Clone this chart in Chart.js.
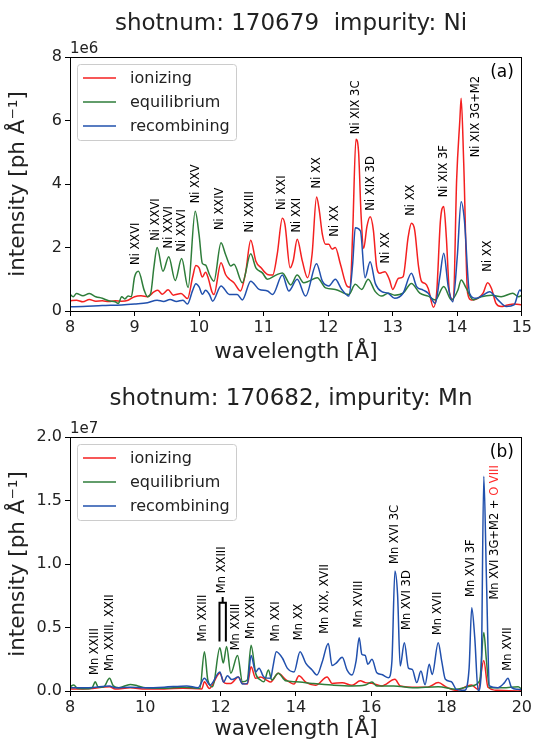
<!DOCTYPE html>
<html>
<head>
<meta charset="utf-8">
<script src="https://cdn.jsdelivr.net/npm/chart.js@4.4.1/dist/chart.umd.min.js"></script>
<style>
html,body{margin:0;padding:0;background:#fff;}
#wrap{position:relative;width:534px;height:742px;overflow:hidden;}
canvas{position:absolute;left:0;}
</style>
</head>
<body>
<div id="wrap">
<canvas id="c1" width="534" height="371" style="top:0"></canvas>
<canvas id="c2" width="534" height="371" style="top:371px"></canvas>
</div>
<script>
// ---------------- DATA: panel (a) Ni, shot 170679 (units of 1e6) ----------------
const niIonWl = [8.00,8.10,8.20,8.30,8.40,8.50,8.60,8.70,8.80,8.90,9.00,9.10,9.20,9.30,9.36,9.43,9.52,9.60,9.72,9.82,9.90,9.95,10.00,10.05,10.10,10.14,10.20,10.23,10.34,10.41,10.47,10.54,10.64,10.72,10.80,10.88,10.96,11.06,11.14,11.21,11.29,11.33,11.41,11.46,11.52,11.60,11.68,11.75,11.82,11.86,11.91,11.96,12.01,12.06,12.11,12.19,12.29,12.34,12.38,12.43,12.47,12.51,12.55,12.60,12.65,12.70,12.75,12.80,12.88,12.95,13.00,13.09,13.16,13.24,13.29,13.34,13.40,13.45,13.50,13.55,13.63,13.68,13.74,13.79,13.83,13.88,13.94,13.99,14.04,14.06,14.10,14.16,14.22,14.32,14.40,14.47,14.53,14.60,14.68,14.78,14.88,15.00];
const niIon   = [0.32,0.34,0.29,0.36,0.31,0.32,0.30,0.32,0.31,0.34,0.45,0.48,0.45,0.60,0.65,0.53,0.67,0.50,0.55,0.39,1.07,1.43,1.36,1.07,1.22,1.05,0.60,0.52,1.52,1.15,1.00,0.89,0.63,1.20,2.23,1.57,1.36,1.15,1.13,1.78,2.92,2.73,1.36,1.60,2.26,1.57,1.05,1.78,3.59,3.20,2.41,2.10,2.10,1.95,2.00,1.47,0.79,0.75,2.50,5.41,5.04,3.00,1.97,2.66,2.97,2.55,1.40,1.19,1.24,0.98,0.68,1.03,1.08,2.34,2.76,2.55,1.40,0.92,0.87,0.71,0.12,0.56,2.87,3.29,2.34,0.56,0.35,4.13,6.02,6.70,4.65,0.56,0.35,0.40,0.56,0.89,0.71,0.24,0.14,0.19,0.22,0.20];
const niEquWl = [8.00,8.05,8.10,8.20,8.30,8.40,8.50,8.60,8.70,8.75,8.80,8.85,8.90,8.95,9.00,9.06,9.15,9.20,9.25,9.30,9.35,9.44,9.53,9.63,9.73,9.83,9.94,10.00,10.05,10.10,10.16,10.23,10.34,10.41,10.49,10.54,10.67,10.80,10.88,10.98,11.06,11.19,11.29,11.42,11.52,11.62,11.70,11.83,11.96,12.11,12.32,12.42,12.52,12.62,12.73,12.83,12.93,13.03,13.16,13.29,13.42,13.55,13.66,13.79,13.91,14.01,14.06,14.14,14.25,14.37,14.53,14.68,14.86,14.95,15.00];
const niEqu   = [0.53,0.45,0.55,0.48,0.55,0.45,0.40,0.32,0.29,0.24,0.45,0.38,0.47,0.45,1.07,1.25,0.65,0.45,0.55,1.38,2.00,1.25,1.71,0.96,1.65,0.74,3.14,2.40,1.50,1.45,1.15,0.94,2.15,1.78,1.42,1.47,0.89,1.80,1.36,1.20,1.00,1.13,1.20,0.82,1.13,0.89,0.94,1.05,0.73,0.68,0.52,0.84,0.68,1.00,0.61,0.47,0.56,0.50,0.56,0.87,0.56,0.47,0.35,0.77,0.35,0.66,0.98,0.71,0.35,0.45,0.50,0.45,0.56,0.45,0.50];
const niRecWl = [8.00,8.20,8.50,8.80,9.00,9.20,9.35,9.45,9.55,9.65,9.75,9.82,9.90,9.95,10.00,10.05,10.10,10.16,10.21,10.34,10.47,10.59,10.67,10.80,10.93,11.06,11.14,11.29,11.39,11.52,11.65,11.82,11.91,12.01,12.11,12.21,12.32,12.38,12.42,12.50,12.57,12.65,12.73,12.83,12.93,13.03,13.16,13.29,13.37,13.47,13.55,13.66,13.73,13.79,13.86,13.93,14.00,14.06,14.11,14.19,14.29,14.40,14.50,14.63,14.76,14.88,14.97,15.00];
const niRec   = [0.13,0.14,0.17,0.19,0.22,0.26,0.34,0.30,0.36,0.30,0.34,0.22,0.65,0.86,0.76,0.53,0.65,0.52,0.31,0.79,0.52,0.52,0.35,0.94,0.68,0.63,0.52,1.13,0.63,1.00,0.47,1.49,0.94,0.79,1.00,0.68,0.47,1.50,2.62,2.52,1.05,1.55,0.87,0.61,0.56,0.40,0.56,1.19,0.77,0.66,0.56,0.24,1.08,1.82,0.77,0.29,1.71,3.44,2.87,0.56,0.40,0.50,0.61,0.35,0.14,0.19,0.66,0.60];
const niTicksX = [8,9,10,11,12,13,14,15];
const niTicksY = [0,2,4,6,8];
const niLineNames = ['Ni XXVI','Ni XXVI','Ni XXVI','Ni XXVI','Ni XXV','Ni XXIV','Ni XXIII','Ni XXI','Ni XXI','Ni XX','Ni XX','Ni XIX 3C','Ni XIX 3D','Ni XX','Ni XX','Ni XIX 3F','Ni XIX 3G+M2','Ni XX'];
const niLineWl    = [9.03,9.34,9.53,9.74,9.95,10.33,10.79,11.28,11.52,11.83,12.11,12.43,12.67,12.89,13.29,13.79,14.29,14.47];
const niLineY     = [1.45,2.21,1.97,1.87,3.39,2.55,2.47,3.18,2.47,3.86,2.34,5.57,3.16,1.50,3.00,3.58,4.84,1.24];

// ---------------- DATA: panel (b) Mn, shot 170682 (units of 1e7) ----------------
const mnIonWl = [8.0,8.5,9.05,9.2,9.6,10.0,10.5,11.0,11.5,11.57,11.7,11.98,12.08,12.16,12.27,12.47,12.58,12.71,12.81,12.93,13.06,13.2,13.33,13.53,13.73,13.95,14.08,14.26,14.52,14.83,14.96,15.23,15.49,15.71,15.84,16.02,16.28,16.63,16.77,17.2,17.5,17.78,18.0,18.26,18.66,18.84,18.99,19.10,19.36,19.9,20.0];
const mnIon   = [0.016,0.018,0.034,0.016,0.025,0.016,0.016,0.022,0.016,0.073,0.02,0.14,0.07,0.06,0.06,0.11,0.06,0.055,0.19,0.10,0.11,0.09,0.07,0.14,0.09,0.055,0.12,0.07,0.045,0.11,0.06,0.065,0.045,0.08,0.066,0.06,0.04,0.092,0.04,0.03,0.03,0.066,0.03,0.005,0.047,0.013,0.24,0.03,0.005,0.0,0.002];
const mnEquWl = [8.0,8.1,8.2,8.5,8.6,8.67,8.75,8.9,9.05,9.15,9.3,9.6,9.8,10.0,10.5,11.0,11.45,11.57,11.66,11.79,11.98,12.07,12.16,12.27,12.45,12.58,12.71,12.81,12.93,13.06,13.15,13.27,13.36,13.53,13.73,13.99,14.43,14.96,15.49,15.84,16.02,16.15,16.6,17.1,17.78,18.26,18.66,18.88,18.99,19.06,19.14,19.5,19.9,20.0];
const mnEqu   = [0.034,0.047,0.02,0.018,0.03,0.073,0.03,0.034,0.10,0.04,0.026,0.052,0.04,0.026,0.021,0.029,0.021,0.31,0.087,0.034,0.34,0.22,0.35,0.14,0.28,0.073,0.087,0.36,0.14,0.087,0.073,0.165,0.087,0.14,0.08,0.073,0.06,0.047,0.04,0.047,0.07,0.04,0.04,0.026,0.034,0.013,0.04,0.079,0.46,0.24,0.026,0.026,0.034,0.013];
const mnRecWl = [8.0,8.5,9.05,9.2,9.6,10.0,10.5,11.1,11.4,11.57,11.72,11.98,12.08,12.18,12.3,12.47,12.58,12.71,12.81,12.93,13.02,13.15,13.33,13.39,13.48,13.64,13.77,13.95,14.11,14.26,14.43,14.56,14.70,14.86,14.96,15.07,15.23,15.36,15.49,15.60,15.68,15.75,15.84,15.91,16.02,16.15,16.28,16.46,16.55,16.63,16.70,16.77,16.88,16.99,17.09,17.21,17.32,17.43,17.54,17.62,17.78,17.87,17.97,18.13,18.26,18.48,18.60,18.67,18.75,18.84,18.92,18.99,19.06,19.14,19.36,19.54,19.63,19.73,19.89,20.0];
const mnRec   = [0.026,0.026,0.04,0.026,0.03,0.026,0.03,0.04,0.026,0.10,0.047,0.15,0.07,0.12,0.09,0.11,0.055,0.06,0.28,0.15,0.18,0.11,0.10,0.19,0.31,0.26,0.18,0.15,0.31,0.22,0.165,0.126,0.23,0.375,0.20,0.22,0.265,0.165,0.126,0.24,0.42,0.29,0.28,0.21,0.25,0.144,0.13,0.105,0.236,0.945,0.76,0.197,0.38,0.18,0.17,0.066,0.157,0.05,0.21,0.13,0.38,0.24,0.092,0.073,0.013,0.005,0.18,0.656,0.42,0.0,0.13,1.69,0.89,0.04,0.026,0.066,0.10,0.026,0.013,0.01];
const mnTicksX = [8,10,12,14,16,18,20];
const mnTicksY = [0.0,0.5,1.0,1.5,2.0];
const mnLineNames = ['Mn XXIII','Mn XXIII, XXII','Mn XXIII','Mn XXIII','Mn XXIII','Mn XXII','Mn XXI','Mn XX','Mn XIX, XVII','Mn XVIII','Mn XVI 3C','Mn XVI 3D','Mn XVII','Mn XVI 3F','Mn XVI 3G+M2 + |O VIII','Mn XVII'];
const mnLineWl    = [8.66,9.06,11.54,12.05,12.41,12.80,13.48,14.08,14.78,15.67,16.62,16.96,17.78,18.66,19.30,19.63];
const mnLineY     = [0.126,0.157,0.39,0.77,0.32,0.41,0.39,0.40,0.45,0.50,1.00,0.48,0.44,0.74,0.72,0.16];
// bracket joining the two Mn XXIII lines near 12 Å
const mnBracketWl = [11.97,12.14];
const mnBracketY  = [0.39,0.695,0.74];

const seriesNames = ['ionizing','equilibrium','recombining'];
// ----------------------------------------------------------------------

const FONT = '"DejaVu Sans", "Liberation Sans", sans-serif';
const COLORS = ['#f42020','#2e7d3a','#2150ad'];

function pts(xs, ys){ return xs.map((x,i)=>({x:x,y:ys[i]})); }

const overlay = {
  id: 'overlay',
  afterDatasetsDraw(chart, args, o) {
    const {ctx, chartArea: a, scales} = chart;
    const xs = scales.x, ys = scales.y;
    ctx.save();
    // annotations
    ctx.font = '11.5px ' + FONT;
    ctx.textBaseline = 'middle';
    ctx.textAlign = 'left';
    o.names.forEach((name, i) => {
      const px = xs.getPixelForValue(o.wl[i]);
      const py = ys.getPixelForValue(o.ly[i]);
      ctx.save();
      ctx.translate(px, py);
      ctx.rotate(-Math.PI/2);
      const parts = name.split('|');
      let off = 0;
      parts.forEach((p, k) => {
        ctx.fillStyle = k === 0 ? '#000' : '#ff2a2a';
        ctx.fillText(p, off, 0);
        off += ctx.measureText(p).width;
      });
      ctx.restore();
    });
    if (o.bracket) {
      const b = o.bracket;
      const x1 = xs.getPixelForValue(b.wl[0]), x2 = xs.getPixelForValue(b.wl[1]);
      const yb = ys.getPixelForValue(b.y[0]), yt = ys.getPixelForValue(b.y[1]), ys2 = ys.getPixelForValue(b.y[2]);
      ctx.strokeStyle = '#000'; ctx.lineWidth = 2;
      ctx.beginPath();
      ctx.moveTo(x1, yb); ctx.lineTo(x1, yt); ctx.lineTo(x2, yt); ctx.lineTo(x2, yb);
      ctx.moveTo((x1+x2)/2, yt); ctx.lineTo((x1+x2)/2, ys2);
      ctx.stroke();
    }
    // frame
    ctx.strokeStyle = '#000'; ctx.lineWidth = 1;
    ctx.strokeRect(Math.round(a.left)+0.5, Math.round(a.top)+0.5, Math.round(a.right-a.left)-1, Math.round(a.bottom-a.top));
    // legend
    const lx = a.left + 7.5, ly = a.top + 7.5, lw = 159, lh = 76;
    ctx.fillStyle = 'rgba(255,255,255,0.85)';
    ctx.strokeStyle = '#cccccc';
    ctx.beginPath();
    ctx.roundRect(lx, ly, lw, lh, 3);
    ctx.fill(); ctx.stroke();
    ctx.font = '16px ' + FONT;
    ctx.textBaseline = 'middle';
    chart.data.datasets.forEach((ds, i) => {
      const yy = a.top + 21 + i * 24;
      ctx.strokeStyle = ds.borderColor; ctx.lineWidth = 1.5;
      ctx.beginPath(); ctx.moveTo(a.left + 13, yy); ctx.lineTo(a.left + 46, yy); ctx.stroke();
      ctx.fillStyle = '#222';
      ctx.fillText(ds.label, a.left + 60, yy + 1);
    });
    // panel label
    ctx.font = '17px ' + FONT;
    ctx.textAlign = 'right';
    ctx.fillStyle = '#000';
    ctx.fillText(o.panel, a.right - 8, a.top + 16);
    // offset text
    ctx.font = '15px ' + FONT;
    ctx.textAlign = 'left';
    ctx.textBaseline = 'alphabetic';
    ctx.fillStyle = '#222';
    ctx.fillText(o.mult, a.left, a.top - 4);
    // title
    ctx.font = '23px ' + FONT;
    ctx.textAlign = 'center';
    ctx.fillText(o.title, 291, o.titleY);
    ctx.restore();
  }
};

function makeChart(id, cfg) {
  return new Chart(document.getElementById(id), {
    type: 'line',
    data: {
      datasets: cfg.series.map((s, i) => ({
        label: seriesNames[i],
        data: pts(s[0], s[1]),
        borderColor: COLORS[i],
        backgroundColor: COLORS[i],
        borderWidth: 1.5,
        pointRadius: 0,
        tension: 0.25,
        cubicInterpolationMode: 'monotone',
        fill: false,
        order: 3 - i
      }))
    },
    options: {
      responsive: false,
      animation: false,
      devicePixelRatio: 1,
      layout: { padding: { top: cfg.padTop, right: 10, left: 0, bottom: 0 } },
      plugins: {
        legend: { display: false },
        tooltip: { enabled: false },
        overlay: cfg.overlay
      },
      scales: {
        x: {
          type: 'linear', min: cfg.xmin, max: cfg.xmax,
          afterBuildTicks: (sc) => { sc.ticks = cfg.ticksX.map(v => ({value: v})); },
          afterFit: (sc) => { sc.height = cfg.xH; },
          ticks: { color: '#222', font: { family: FONT, size: 16 }, padding: 2, maxRotation: 0, autoSkip: false,
                   callback: (v) => String(v) },
          grid: { display: true, drawOnChartArea: false, drawTicks: true, tickLength: 5, color: '#000', tickColor: '#000' },
          border: { display: true, color: '#000' },
          title: { display: true, text: 'wavelength [Å]', color: '#222', font: { family: FONT, size: 21.5, lineHeight: 1.2 },
                   padding: { top: 0, bottom: cfg.xTitlePad } }
        },
        y: {
          type: 'linear', min: cfg.ymin, max: cfg.ymax,
          afterBuildTicks: (sc) => { sc.ticks = cfg.ticksY.map(v => ({value: v})); },
          afterFit: (sc) => { sc.width = 70; },
          ticks: { color: '#222', font: { family: FONT, size: 16 }, padding: 3,
                   callback: cfg.yFmt },
          grid: { display: true, drawOnChartArea: false, drawTicks: true, tickLength: 5, color: '#000', tickColor: '#000' },
          border: { display: true, color: '#000' },
          title: { display: true, text: 'intensity [ph Å⁻¹]', color: '#222', font: { family: FONT, size: 21.5, lineHeight: 1.2 },
                   padding: { top: 6, bottom: 0 } }
        }
      }
    },
    plugins: [overlay]
  });
}

makeChart('c1', {
  series: [[niIonWl, niIon], [niEquWl, niEqu], [niRecWl, niRec]],
  xmin: 8, xmax: 15, ymin: 0, ymax: 8,
  ticksX: niTicksX, ticksY: niTicksY,
  yFmt: (v) => String(v),
  padTop: 57, xH: 60, xTitlePad: 6,
  overlay: { names: niLineNames, wl: niLineWl, ly: niLineY, panel: '(a)', mult: '1e6',
             title: 'shotnum: 170679  impurity: Ni', titleY: 30 }
});

makeChart('c2', {
  series: [[mnIonWl, mnIon], [mnEquWl, mnEqu], [mnRecWl, mnRec]],
  xmin: 8, xmax: 20, ymin: 0, ymax: 2,
  ticksX: mnTicksX, ticksY: mnTicksY,
  yFmt: (v) => Number(v).toFixed(1),
  padTop: 66, xH: 51, xTitlePad: 0,
  overlay: { names: mnLineNames, wl: mnLineWl, ly: mnLineY, panel: '(b)', mult: '1e7',
             bracket: { wl: mnBracketWl, y: mnBracketY },
             title: 'shotnum: 170682, impurity: Mn', titleY: 34 }
});
</script>
</body>
</html>
